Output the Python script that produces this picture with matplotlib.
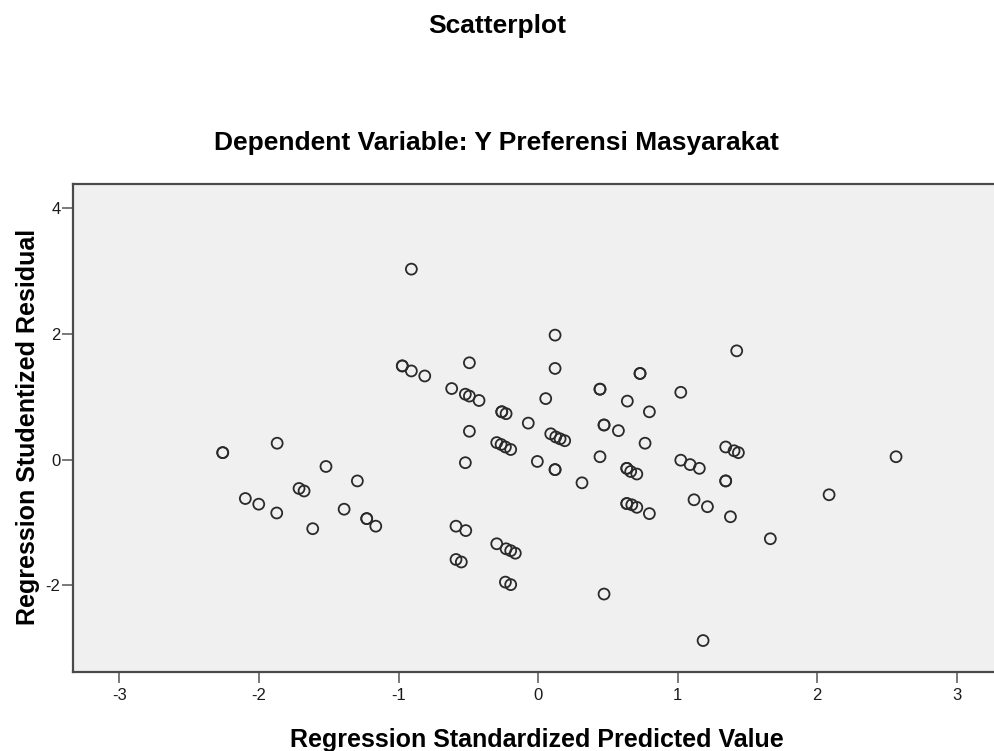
import matplotlib
matplotlib.use("Agg")
import matplotlib.pyplot as plt

plt.rcParams['font.family'] = ['Liberation Sans', 'DejaVu Sans']
plt.rcParams['axes.unicode_minus'] = False

# standardized predicted value (x) and studentized residual (y)
pred = [-2.26, -2.26, -1.87, -1.52, -1.295, -1.713, -1.677, -2.098, -2.002, -1.873,
        -1.39, -1.228, -1.228, -1.163, -1.615,
        -0.908, 0.122, -0.973, -0.973, -0.908, -0.812, -0.492, 0.122, -0.619, -0.521,
        -0.492, -0.423, 0.055, -0.26, -0.26, -0.229, -0.492, -0.07, -0.296, -0.265,
        -0.234, -0.196, 0.091, 0.127, 0.158, 0.191, -0.521, -0.005, 0.122, 0.122,
        0.315, -0.588, -0.518, -0.588, -0.55, -0.296, -0.229, -0.196, -0.163, -0.234,
        -0.196, 0.473,
        1.424, 0.731, 0.731, 0.444, 0.444, 1.023, 0.64, 0.798, 0.473, 0.473,
        0.576, 0.767, 0.444, 0.636, 0.636, 0.664, 0.708, 0.636, 0.636, 0.672,
        0.708, 0.798, 1.023, 1.09, 1.156, 1.118, 1.214, 1.345, 1.405, 1.436,
        1.345, 1.345, 1.379, 2.566, 2.086, 1.665, 1.183]
resid = [0.11, 0.11, 0.26, -0.11, -0.34, -0.46, -0.50, -0.62, -0.71, -0.85,
         -0.79, -0.94, -0.94, -1.06, -1.10,
         3.03, 1.98, 1.49, 1.49, 1.41, 1.33, 1.54, 1.45, 1.13, 1.04,
         1.01, 0.94, 0.97, 0.76, 0.76, 0.73, 0.45, 0.58, 0.27, 0.24,
         0.20, 0.16, 0.41, 0.36, 0.33, 0.30, -0.05, -0.03, -0.16, -0.16,
         -0.37, -1.06, -1.13, -1.59, -1.63, -1.34, -1.42, -1.45, -1.49, -1.95,
         -1.99, -2.14,
         1.73, 1.37, 1.37, 1.12, 1.12, 1.07, 0.93, 0.76, 0.55, 0.55,
         0.46, 0.26, 0.045, -0.14, -0.14, -0.19, -0.23, -0.70, -0.70, -0.72,
         -0.76, -0.86, -0.01, -0.08, -0.14, -0.64, -0.75, 0.20, 0.14, 0.11,
         -0.34, -0.34, -0.91, 0.045, -0.56, -1.26, -2.88]

xticks = [-3, -2, -1, 0, 1, 2, 3]
yticks = [-2, 0, 2, 4]

fig = plt.figure(figsize=(9.95, 7.51), dpi=100)
# right edge of the frame runs past the image, like the original screenshot
ax = fig.add_axes([0.0734, 0.1048, 0.9347, 0.6498])
ax.set_facecolor('#f0f0f0')

ax.scatter(pred, resid, s=62, facecolors='none', edgecolors='#2a2a2a', linewidths=1.3)

ax.set_xlim(-3.333, 3.333)
ax.set_ylim(-3.385, 4.38)
ax.set_xticks(xticks)
ax.set_yticks(yticks)
ax.tick_params(axis='both', direction='out', length=8, width=1.1, color='#555555',
               labelsize=12, labelcolor='#1a1a1a')
ax.tick_params(axis='x', pad=3.5)
ax.tick_params(axis='y', pad=1)
for s in ax.spines.values():
    s.set_color('#4a4a4a')
    s.set_linewidth(1.6)

ax.set_xlabel('Regression Standardized Predicted Value', fontsize=18, fontweight='bold', va='center')
ax.xaxis.set_label_coords(0.499, -0.138)
ax.set_ylabel('Regression Studentized Residual', fontsize=18, fontweight='bold', va='center')
ax.yaxis.set_label_coords(-0.0485, 0.5027)

fig.text(0.4995, 0.966, 'Scatterplot', ha='center', va='center', fontsize=19, fontweight='bold')
fig.text(0.4985, 0.809, 'Dependent Variable: Y Preferensi Masyarakat', ha='center', va='center',
         fontsize=19, fontweight='bold')

fig.savefig('out.png', dpi=100)
